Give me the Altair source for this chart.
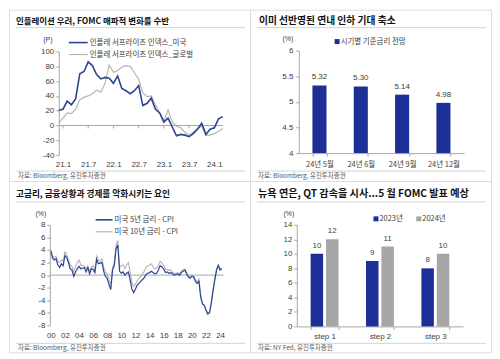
import json
import altair as alt
import pandas as pd

KR = "Noto Sans CJK KR"
NUM = "Liberation Sans"
BLUE_LINE = "#2a4595"
GRAY_LINE = "#b4b4b4"
BAR_BLUE = "#1b2f97"
BAR_GRAY = "#a6a6a6"
AXIS_C = "#a6a6a6"
LABEL_C = "#404040"
SEP_C = "#d4d4d4"
SRC_C = "#595959"
W, H = 242, 172

# ---------------- data ----------------
P1_TITLE = "인플레이션 우려, FOMC 매파적 변화를 수반"
P1_SERIES = ["인플레 서프라이즈 인덱스_미국", "인플레 서프라이즈 인덱스_글로벌"]
P1_TICK_LABELS = ["21.1", "21.7", "22.1", "22.7", "23.1", "23.7", "24.1"]
P1_TICK_MONTHS = [1, 7, 13, 19, 25, 31, 37]
P1_US = [20.6, 22, 33, 28, 36, 70, 73, 86, 81, 69, 63, 65, 64, 57, 67, 50, 47, 43, 47, 54,
         27, 30, 37, 22, 17, 4.5, 10, -2, -14, -12, -13, -15, -11, -5, 3, -12, -5, -3, 9, 12]
P1_GLOBAL = [4, 10, 17, 16, 22, 35, 38, 40, 43, 48, 45, 57, 82, 72, 74, 79, 81, 80, 71, 63,
             44, 39, 40, 28, 17, 6, 21, 4.5, -1, -3, -9, -13, -9, -4, -1, -13, -13, -11, -8, -4]
P1_YTICKS = [-40, -20, 0, 20, 40, 60, 80, 100]

P2_TITLE = "이미 선반영된 연내 인하 기대 축소"
P2_LEGEND = "시기별 기준금리 전망"
P2_PERIODS = ["24년 5월", "24년 6월", "24년 9월", "24년 12월"]
P2_VALUES = [5.32, 5.30, 5.14, 4.98]
P2_YTICKS = [4, 4.5, 5, 5.5, 6]

P3_TITLE = "고금리, 금융상황과 경제를 악화시키는 요인"
P3_SERIES = ["미국 5년 금리 - CPI", "미국 10년 금리 - CPI"]
P3_5Y = [3.8, 2.7, 2.4, 2.6, 1.6, 1.2, 1.8, 1.5, 3.1, 2.8, 2.0, 1.0,
         0.8, -0.2, 0.5, 1.0, 1.4, 1.0, 1.1, 1.2, 0.5, 1.2, 0.2, 1.0,
         0.9, 0.4, 2.5, 1.8, 1.9, 2.0, 0.6, -0.2, -0.5, -1.5, -2.3, 0.8,
         1.5, 4.2, 4.8, 0.6, 0.3, 0.5, 0.0, 0.3, 0.5, -0.8, -2.2, -2.8,
         -2.2, -1.6, -1.3, -1.0, -0.7, -0.4, 0.1, 0.3, 0.4, 0.6, 0.4, 0.2,
         0.3, 0.8, 1.5, 1.3, 1.0, 0.4, 0.5, 0.3, 0.4, 0.2, 0.0, 0.1,
         0.2, 0.0, 0.4, 0.6, 0.8, 0.2, -0.3, -0.5, -0.2, -0.3, -1.0, -1.3,
         -1.0, -3.5, -4.6, -4.8, -5.5, -6.2, -6.0, -4.5, -2.5, -0.8, 0.8, 1.5,
         0.8, 1.0]
P3_10Y = [4.0, 3.0, 2.8, 3.0, 2.2, 2.0, 2.4, 2.2, 3.7, 3.3, 2.4, 1.6,
          1.4, 0.5, 1.4, 2.0, 2.4, 1.6, 1.5, 1.5, 1.0, 1.4, 0.6, 1.3,
          1.5, 0.8, 3.0, 2.4, 2.2, 2.6, 1.2, 0.5, 0.2, -0.8, -1.5, 1.2,
          2.0, 4.8, 5.5, 1.2, 1.5, 1.6, 1.0, 1.6, 2.0, 0.5, -1.2, -1.8,
          -1.4, -0.9, -0.5, -0.2, 0.2, 0.6, 1.3, 1.5, 1.6, 1.8, 1.3, 1.0,
          1.1, 1.6, 2.2, 1.9, 1.6, 0.9, 0.9, 0.8, 0.8, 0.4, 0.3, 0.3,
          0.4, 0.2, 0.6, 0.9, 1.0, 0.4, -0.1, -0.2, 0.0, -0.1, -0.7, -1.0,
          -0.6, -3.2, -4.4, -4.8, -5.6, -6.1, -5.9, -4.3, -2.3, -0.4, 1.0, 1.7,
          1.0, 1.1]
P3_YEAR_TICKS = list(range(2000, 2025, 2))
P3_YEAR_LABELS = ["00", "02", "04", "06", "08", "10", "12", "14", "16", "18", "20", "22", "24"]
P3_YTICKS = [-8, -6, -4, -2, 0, 2, 4, 6, 8]

P4_TITLE = "뉴욕 연은, QT 감속을 시사...5 월 FOMC 발표 예상"
P4_STEPS = ["step 1", "step 2", "step 3"]
P4_YEARS = ["2023년", "2024년"]
P4_2023 = [10, 9, 8]
P4_2024 = [12, 11, 10]
P4_YTICKS = [0, 2, 4, 6, 8, 10, 12, 14]

SRC_BB = "자료: Bloomberg, 유진투자증권"
SRC_NY = "자료: NY Fed, 유진투자증권"

ONE = pd.DataFrame({"k": [0]})


def label(text, x, y, size=7.0, color=LABEL_C, weight="normal", font=KR, align="left"):
    return alt.Chart(ONE).mark_text(text=text, font=font, fontSize=size, fontWeight=weight,
                                    color=color, align=align, baseline="middle").encode(
        x=alt.value(x), y=alt.value(y))


def hline(x1, x2, y, color=SEP_C, width=1.0):
    return alt.Chart(ONE).mark_rule(color=color, strokeWidth=width).encode(
        x=alt.value(x1), x2=alt.value(x2), y=alt.value(y))


def swatch(x, y, color, size=5):
    return alt.Chart(ONE).mark_rect(color=color).encode(
        x=alt.value(x), x2=alt.value(x + size), y=alt.value(y - size / 2), y2=alt.value(y + size / 2))


def frame(title, tsize, source, tx, ty, sep1, sep2, sx, sy):
    return [
        label(title, tx, ty, size=tsize, color="#111111", weight="bold"),
        hline(7, 237, sep1),
        hline(7, 237, sep2),
        label(source, sx, sy, size=6.5, color=SRC_C),
    ]


def yaxis(values, offset, pad=2):
    return alt.Axis(values=values, offset=offset, title=None, grid=False, domainColor=AXIS_C,
                    tickColor=AXIS_C, tickSize=3, labelPadding=pad, labelFont=NUM, labelFontSize=8,
                    labelColor=LABEL_C, labelExpr="toString(datum.value)", labelFlush=False)


# ---------------- panel 1 ----------------
xs1 = alt.Scale(domain=[0, 39], range=[50, 214.6], nice=False, zero=False)
ys1 = alt.Scale(domain=[-40, 100], range=[146, 42], nice=False, zero=False)
ax1x = alt.Axis(values=P1_TICK_MONTHS, offset=-26, title=None, grid=False, domain=False, ticks=False,
                tickSize=0, labelPadding=5, labelFont=NUM, labelFontSize=8, labelColor=LABEL_C,
                labelFlush=False,
                labelExpr=json.dumps(P1_TICK_LABELS) + "[(datum.value-1)/6]")
ax1y = yaxis(P1_YTICKS, -50)
X1 = alt.X("m:Q", scale=xs1, axis=ax1x)
Y1 = alt.Y("v:Q", scale=ys1, axis=ax1y)

df1g = pd.DataFrame({"m": list(range(len(P1_GLOBAL))), "v": P1_GLOBAL})
df1u = pd.DataFrame({"m": list(range(len(P1_US))), "v": P1_US})
df1z = pd.DataFrame({"m": [0], "m2": [39], "v": [0]})
df1t = pd.DataFrame({"m": P1_TICK_MONTHS, "v": [0] * len(P1_TICK_MONTHS), "v2": [-4] * len(P1_TICK_MONTHS)})

p1 = alt.layer(
    *frame(P1_TITLE, 8.5, SRC_BB, 7, 11, 18, 162, 9, 167),
    alt.Chart(df1z).mark_rule(color=AXIS_C, strokeWidth=1).encode(x=X1, x2="m2:Q", y=Y1),
    alt.Chart(df1t).mark_rule(color=AXIS_C, strokeWidth=1).encode(x=X1, y=Y1, y2="v2:Q"),
    alt.Chart(df1g).mark_line(color=GRAY_LINE, strokeWidth=1.2).encode(x=X1, y=Y1),
    alt.Chart(df1u).mark_line(color=BLUE_LINE, strokeWidth=1.6).encode(x=X1, y=Y1),
    label("(P)", 39, 30, size=7, align="center", font=NUM),
    hline(60, 79, 33, color=BLUE_LINE, width=1.6),
    label(P1_SERIES[0], 81, 33, size=7.5),
    hline(60, 79, 45, color=GRAY_LINE, width=1.2),
    label(P1_SERIES[1], 81, 45, size=7.5),
).properties(width=W, height=H)

# ---------------- panel 2 ----------------
xs2 = alt.Scale(domain=P2_PERIODS, range=[49, 215], paddingInner=0.66, paddingOuter=0.33)
ys2 = alt.Scale(domain=[4, 6], range=[144, 41], nice=False, zero=False)
ax2x = alt.Axis(offset=-28, title=None, grid=False, domainColor=AXIS_C, tickColor=AXIS_C, tickSize=3,
                tickBand="extent", labelPadding=4, labelFont=KR, labelFontSize=7.5, labelColor=LABEL_C,
                labelAngle=0)
X2 = alt.X("p:N", scale=xs2, sort=None, axis=ax2x)
Y2 = alt.Y("v:Q", scale=ys2, axis=yaxis(P2_YTICKS, -49, pad=3))
df2 = pd.DataFrame({"p": P2_PERIODS, "v": P2_VALUES, "base": [4] * len(P2_VALUES)})

p2 = alt.layer(
    *frame(P2_TITLE, 9.8, SRC_BB, 9, 11, 18, 162, 8, 167),
    alt.Chart(df2).mark_bar(color=BAR_BLUE).encode(x=X2, y=Y2, y2="base:Q"),
    alt.Chart(df2).mark_text(dy=-8, font=NUM, fontSize=8, color=LABEL_C).encode(
        x=X2, y=Y2, text=alt.Text("v:Q", format=".2f")),
    label("(%)", 38, 29, size=7, align="center", font=NUM),
    swatch(85, 32, BAR_BLUE, 5),
    label(P2_LEGEND, 91, 32, size=7.5),
).properties(width=W, height=H)

# ---------------- panel 3 ----------------
xs3 = alt.Scale(domain=[2000, 2024.5], range=[42, 215.5], nice=False, zero=False)
ys3 = alt.Scale(domain=[-8, 8], range=[145, 44], nice=False, zero=False)
ax3x = alt.Axis(values=P3_YEAR_TICKS, offset=-27, title=None, grid=False, domain=False, ticks=False,
                tickSize=0, labelPadding=6, labelFont=NUM, labelFontSize=8, labelColor=LABEL_C,
                labelFlush=False,
                labelExpr=json.dumps(P3_YEAR_LABELS) + "[(datum.value-2000)/2]")
X3 = alt.X("t:Q", scale=xs3, axis=ax3x)
Y3 = alt.Y("v:Q", scale=ys3, axis=yaxis(P3_YTICKS, -41))
P3_T = [2000 + i / 4 for i in range(len(P3_5Y))]
df3a = pd.DataFrame({"t": P3_T, "v": P3_10Y})
df3b = pd.DataFrame({"t": P3_T, "v": P3_5Y})
df3z = pd.DataFrame({"t": [2000], "t2": [2024.5], "v": [0]})

p3 = alt.layer(
    *frame(P3_TITLE, 8.7, SRC_BB, 7, 13, 21, 163, 9, 168),
    alt.Chart(df3z).mark_rule(color=AXIS_C, strokeWidth=1).encode(x=X3, x2="t2:Q", y=Y3),
    alt.Chart(df3a).mark_line(color=GRAY_LINE, strokeWidth=1.1).encode(x=X3, y=Y3),
    alt.Chart(df3b).mark_line(color=BLUE_LINE, strokeWidth=1.2).encode(x=X3, y=Y3),
    label("(%)", 32, 33, size=7, align="center", font=NUM),
    hline(87, 104, 39, color=BLUE_LINE, width=1.6),
    label(P3_SERIES[0], 106, 39, size=7.5),
    hline(87, 104, 51, color=GRAY_LINE, width=1.2),
    label(P3_SERIES[1], 106, 51, size=7.5),
).properties(width=W, height=H)

# ---------------- panel 4 ----------------
xs4 = alt.Scale(domain=P4_STEPS, range=[47, 214], paddingInner=0.497, paddingOuter=0.25)
ys4 = alt.Scale(domain=[0, 14], range=[146, 44], nice=False)
ax4x = alt.Axis(offset=-26, title=None, grid=False, domainColor=AXIS_C, tickColor=AXIS_C, tickSize=3,
                tickBand="extent", labelPadding=3, labelFont=NUM, labelFontSize=8, labelColor=LABEL_C,
                labelAngle=0)
X4 = alt.X("s:N", scale=xs4, sort=None, axis=ax4x)
XO4 = alt.XOffset("y:N", scale=alt.Scale(domain=P4_YEARS, paddingInner=0.19, paddingOuter=0))
Y4 = alt.Y("v:Q", scale=ys4, axis=yaxis(P4_YTICKS, -47, pad=2))
df4 = pd.DataFrame({
    "s": P4_STEPS * 2,
    "y": [P4_YEARS[0]] * 3 + [P4_YEARS[1]] * 3,
    "v": P4_2023 + P4_2024,
})
C4 = alt.Color("y:N", scale=alt.Scale(domain=P4_YEARS, range=[BAR_BLUE, BAR_GRAY]), legend=None)

p4 = alt.layer(
    *frame(P4_TITLE, 10.2, SRC_NY, 8, 13, 21, 163, 8, 168),
    alt.Chart(df4).mark_bar().encode(x=X4, xOffset=XO4, y=Y4, color=C4),
    alt.Chart(df4).mark_text(dy=-8, font=NUM, fontSize=8, color=LABEL_C).encode(
        x=X4, xOffset=XO4, y=Y4, text=alt.Text("v:Q")),
    label("(%)", 39, 33, size=7, align="center", font=NUM),
    swatch(124, 38, BAR_BLUE, 5),
    label(P4_YEARS[0], 130, 38, size=7.5),
    swatch(167, 38, BAR_GRAY, 5),
    label(P4_YEARS[1], 173, 38, size=7.5),
).properties(width=W, height=H)

chart = alt.concat(p1, p2, p3, p4, columns=2, spacing=0, bounds="flush").properties(
    padding=0, background="white"
).configure_view(stroke=None).configure(font=KR)

chart.save("out.html", embed_options={"renderer": "svg", "actions": False})
